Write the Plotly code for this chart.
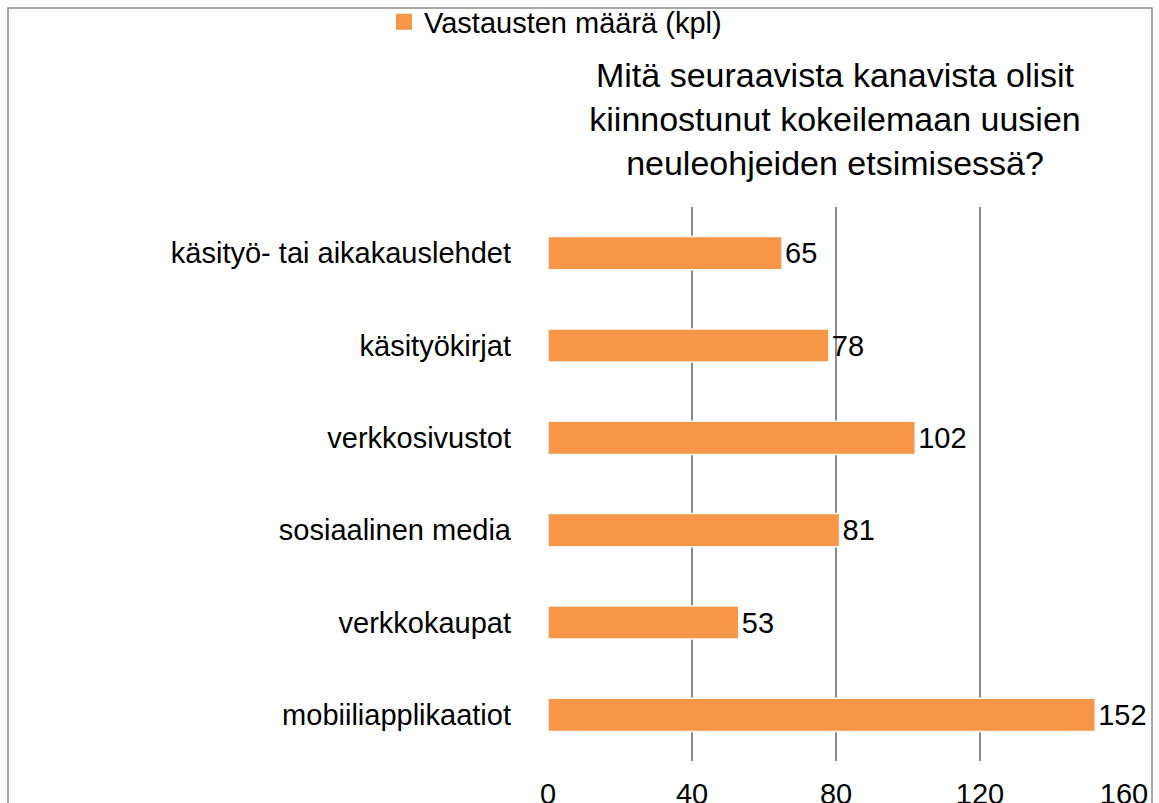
import plotly.graph_objects as go

# ------------------------------------------------------------------------------------------------
# Data
channels = [
    'käsityö- tai aikakauslehdet',
    'käsityökirjat',
    'verkkosivustot',
    'sosiaalinen media',
    'verkkokaupat',
    'mobiiliapplikaatiot',
]
answers = [65, 78, 102, 81, 53, 152]
series_name = 'Vastausten määrä (kpl)'
title_text = 'Mitä seuraavista kanavista olisit<br>kiinnostunut kokeilemaan uusien<br>neuleohjeiden etsimisessä?'
x_ticks = [0, 40, 80, 120, 160]

# ------------------------------------------------------------------------------------------------
W, H = 1159, 803
L, R, T, B = 548, 35, 207, 42
pw, ph = W - L - R, H - T - B

font = 'Liberation Sans, Arial, sans-serif'
orange = '#F79646'
grid = '#8c8c8c'

fig = go.Figure(
    data=go.Bar(
        name          = series_name,
        x             = answers,
        y             = channels,
        orientation   = 'h',
        marker_color  = orange,
        marker_line   = dict(color='#fafafa', width=1.5),
        width         = 0.36,
        text          = [str(v) for v in answers],
        textposition  = 'outside',
        textfont      = dict(size=29, color='black', family=font),
        cliponaxis    = False,
        showlegend    = False,
    )
)

# legend entry with a bigger square symbol, like the original
fig.add_trace(go.Scatter(
    name         = series_name,
    x            = [None],
    y            = [None],
    mode         = 'markers',
    marker       = dict(symbol='square', size=20, color=orange),
    showlegend   = True,
    hoverinfo    = 'skip',
))

fig.update_layout(
    width         = W,
    height        = H,
    margin        = dict(l=L, r=R, t=T, b=B, autoexpand=False),
    paper_bgcolor = 'white',
    plot_bgcolor  = 'white',
    font          = dict(family=font, color='black'),
    title         = dict(
        text    = title_text,
        x       = 835 / W,
        xref    = 'container',
        xanchor = 'center',
        y       = 1 - 87 / H,
        yref    = 'container',
        yanchor = 'middle',
        font    = dict(size=34, color='black', family=font),
    ),
    legend        = dict(
        orientation = 'h',
        x           = (384 - L) / pw,
        xanchor     = 'left',
        y           = (H - B - 22) / ph,
        yanchor     = 'middle',
        font        = dict(size=29, color='black', family=font),
        bgcolor     = 'rgba(0,0,0,0)',
    ),
    bargap        = 0.64,
)

fig.update_xaxes(
    range              = [0, 160],
    tickvals           = x_ticks,
    showgrid           = False,
    zeroline           = False,
    showline           = False,
    tickfont           = dict(size=29, color='black', family=font),
    ticklabelstandoff  = 13,
    minor              = dict(tickvals=[40, 80, 120], showgrid=True, gridcolor=grid, gridwidth=2),
)

fig.update_yaxes(
    autorange          = 'reversed',
    showgrid           = False,
    zeroline           = False,
    showline           = False,
    tickfont           = dict(size=29, color='black', family=font),
    ticklabelstandoff  = 36,
)

# outer frame of the chart
fig.add_shape(
    type  = 'rect',
    xref  = 'paper', yref = 'paper',
    x0    = (8 - L) / pw, x1 = (1152 - L) / pw,
    y0    = (H - B - 830) / ph, y1 = (H - B - 8) / ph,
    line  = dict(color='#8a8a8a', width=1.5),
    layer = 'below',
)

fig.write_html(
    'out.html',
    config      = dict(displayModeBar=False),
    post_script = "document.body.style.margin = '0';",
)
